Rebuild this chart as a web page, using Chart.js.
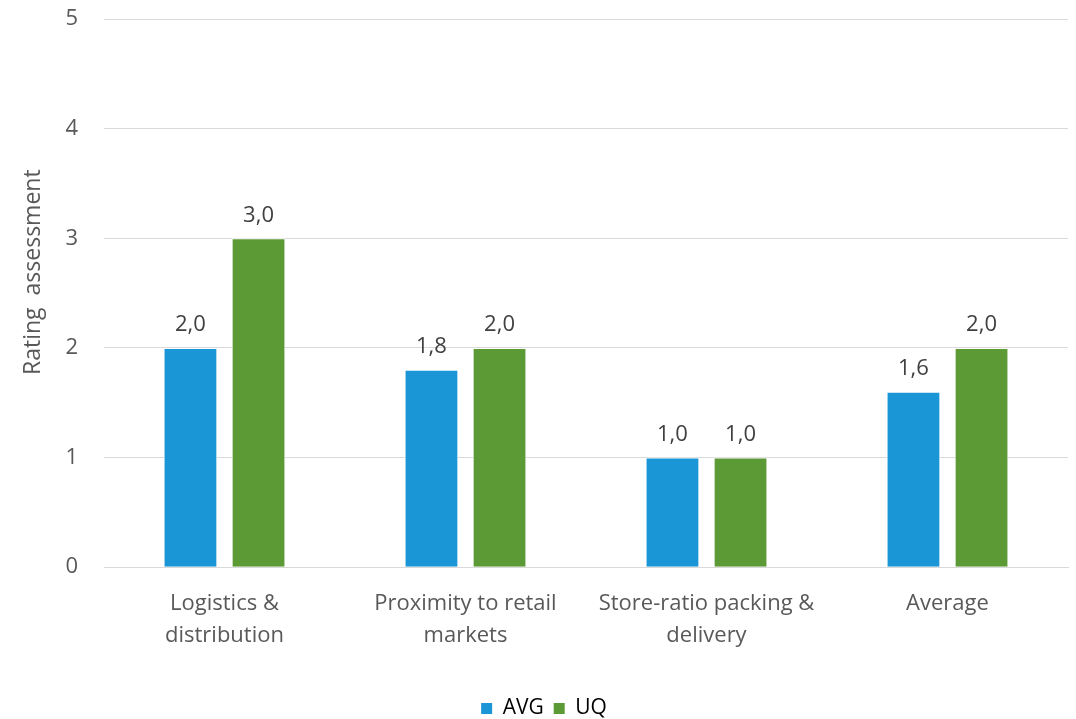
<!DOCTYPE html>
<html>
<head>
<meta charset="utf-8">
<script src="https://cdn.jsdelivr.net/npm/chart.js@4.4.1/dist/chart.umd.min.js"></script>
<style>
  html, body { margin: 0; padding: 0; background: #fff; overflow: hidden; }
  #wrap { width: 1076px; height: 729px; }
</style>
</head>
<body>
<div id="wrap"><canvas id="chart"></canvas></div>
<script>
'use strict';

// Data
const categories = [
    ["Logistics &", "distribution"],
    ["Proximity to retail", "markets"],
    ["Store-ratio packing &", "delivery"],
    ["Average"]
];
const avgValues = [2.0, 1.8, 1.0, 1.6];
const uqValues = [3.0, 2.0, 1.0, 2.0];
const yTicks = [0, 1, 2, 3, 4, 5];

const FONT = "'Open Sans', sans-serif";

// draws the "2,0" style labels above each bar
const valueLabels = {
    id: 'valueLabels',
    afterDatasetsDraw(chart) {
        const ctx = chart.ctx;
        ctx.save();
        ctx.font = '22px ' + FONT;
        ctx.fillStyle = '#404040';
        ctx.textAlign = 'center';
        ctx.textBaseline = 'bottom';
        chart.data.datasets.forEach((ds, i) => {
            chart.getDatasetMeta(i).data.forEach((bar, j) => {
                const txt = ds.data[j].toFixed(1).replace('.', ',');
                ctx.fillText(txt, bar.x, bar.y - 12);
            });
        });
        ctx.restore();
    }
};

const config = {
    type: 'bar',
    data: {
        labels: categories,
        datasets: [
            {
                label: 'AVG',
                data: avgValues,
                backgroundColor: '#1A96D6',
                borderColor: '#ffffff',
                borderWidth: 1
            },
            {
                label: 'UQ',
                data: uqValues,
                backgroundColor: '#5C9A35',
                borderColor: '#ffffff',
                borderWidth: 1
            }
        ]
    },
    options: {
        responsive: true,
        maintainAspectRatio: false,
        animation: false,
        layout: {
            padding: { top: 19, right: 8, bottom: 0, left: 20 }
        },
        datasets: {
            bar: {
                categoryPercentage: 0.565,
                barPercentage: 0.79
            }
        },
        plugins: {
            legend: {
                position: 'bottom',
                labels: {
                    font: { size: 21, family: FONT },
                    color: '#595959',
                    boxWidth: 11,
                    boxHeight: 11,
                    padding: 10,
                    generateLabels(chart) {
                        return chart.data.datasets.map((ds, i) => ({
                            text: ds.label,
                            fillStyle: ds.backgroundColor,
                            strokeStyle: ds.backgroundColor,
                            lineWidth: 0,
                            datasetIndex: i
                        }));
                    }
                }
            },
            tooltip: { enabled: false }
        },
        scales: {
            x: {
                grid: { display: false },
                border: { color: '#d9d9d9', width: 1 },
                ticks: {
                    font: { size: 22, family: FONT, lineHeight: 1.45 },
                    color: '#595959',
                    maxRotation: 0,
                    padding: 13
                },
                afterFit(axis) {
                    axis.paddingLeft = 0;
                    axis.paddingRight = 0;
                    axis.height += 23;
                }
            },
            y: {
                min: 0,
                max: 5,
                afterBuildTicks(axis) {
                    axis.ticks = yTicks.map(v => ({ value: v }));
                },
                afterFit(axis) {
                    axis.width = 84;
                    axis.paddingTop = 0;
                    axis.paddingBottom = 0;
                },
                grid: { color: '#d9d9d9', drawTicks: false },
                border: { display: false },
                ticks: {
                    font: { size: 22, family: FONT },
                    color: '#595959',
                    padding: 26
                },
                title: {
                    display: true,
                    text: '       Rating  assessment',
                    font: { size: 23, family: FONT },
                    color: '#595959',
                    padding: 0
                }
            }
        }
    },
    plugins: [valueLabels]
};

new Chart(document.getElementById('chart'), config);
</script>
</body>
</html>
